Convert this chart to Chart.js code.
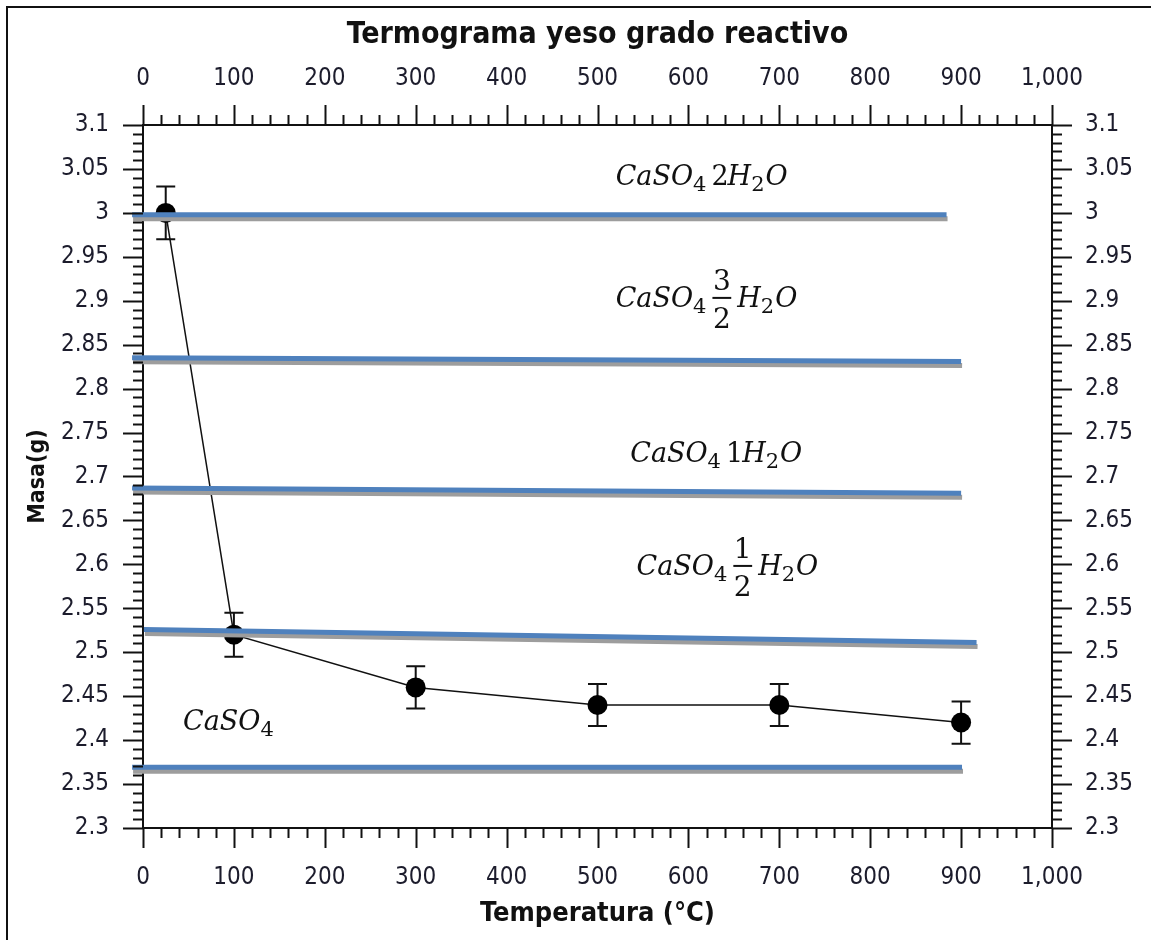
<!DOCTYPE html>
<html>
<head>
<meta charset="utf-8">
<title>Termograma yeso grado reactivo</title>
<script src="https://cdn.jsdelivr.net/npm/chart.js@4.4.1/dist/chart.umd.min.js"></script>
<style>
  html, body { margin: 0; padding: 0; background: #fff; overflow: hidden; }
  #frame {
    position: absolute; left: 6px; top: 6px; width: 1300px; height: 1100px;
    border-top: 2px solid #111; border-left: 2px solid #111;
  }
  #chart { position: absolute; left: 0; top: 0; }
</style>
</head>
<body>
<div id="frame"></div>
<canvas id="chart" width="1151" height="940" style="width:1151px;height:940px"></canvas>
<script>
const tempC   = [25, 100, 300, 500, 700, 900];
const massG   = [3.0, 2.52, 2.46, 2.44, 2.44, 2.42];
const massErr = [0.03, 0.025, 0.024, 0.024, 0.024, 0.024];

// theoretical mass levels of each hydrate (drawn as blue bands)
const levelStartT    = [-12, -12, -12, 1, -12];
const levelEndT      = [884, 900, 900, 917, 901];
const levelStartMass = [2.998, 2.835, 2.687, 2.526, 2.369];
const levelEndMass   = [2.998, 2.831, 2.681, 2.511, 2.369];

// labelled ticks
const tempTicks = [0, 100, 200, 300, 400, 500, 600, 700, 800, 900, 1000];
const massTicks = [2.3, 2.35, 2.4, 2.45, 2.5, 2.55, 2.6, 2.65, 2.7, 2.75,
                   2.8, 2.85, 2.9, 2.95, 3, 3.05, 3.1];

// phase names: i = italic, r = upright, s = subscript, f = fraction
const phaseNames = [
  [["i", "CaSO"], ["s", "4"], ["r", "2"], ["i", "H"], ["s", "2"], ["i", "O"]],
  [["i", "CaSO"], ["s", "4"], ["f", "3", "2"], ["i", "H"], ["s", "2"], ["i", "O"]],
  [["i", "CaSO"], ["s", "4"], ["r", "1"], ["i", "H"], ["s", "2"], ["i", "O"]],
  [["i", "CaSO"], ["s", "4"], ["f", "1", "2"], ["i", "H"], ["s", "2"], ["i", "O"]],
  [["i", "CaSO"], ["s", "4"]]
];
const phaseAtT    = [520, 520, 536, 543, 44];
const phaseAtMass = [3.032, 2.893, 2.7165, 2.588, 2.4115];

// ── Look ────────────────────────────────────────────────
const AXIS_FONT  = "'DejaVu Sans Condensed', 'Liberation Sans', sans-serif";
const MATH_FONT  = "'DejaVu Serif', 'Liberation Serif', serif";
const INK        = "#111";
const LEVEL_BLUE = "#4f81bd";

const isMajor = (list, v) => list.some(t => Math.abs(t - v) < 1e-6);

// ── Plugins ─────────────────────────────────────────────
// outward tick marks, long for labelled values and short otherwise
const tickMarks = {
  id: "tickMarks",
  afterDraw(chart) {
    const ctx = chart.ctx;
    ctx.save();
    ctx.strokeStyle = INK;
    ctx.lineWidth = 2;
    ["x", "x2", "y", "y2"].forEach(id => {
      const s = chart.scales[id];
      const labelled = s.isHorizontal() ? tempTicks : massTicks;
      s.ticks.forEach(t => {
        const len = isMajor(labelled, t.value) ? 20 : 10;
        const p = Math.round(s.getPixelForValue(t.value)) + 0.5;
        ctx.beginPath();
        if (id === "x")  { ctx.moveTo(p, s.top);    ctx.lineTo(p, s.top + len); }
        if (id === "x2") { ctx.moveTo(p, s.bottom); ctx.lineTo(p, s.bottom - len); }
        if (id === "y")  { ctx.moveTo(s.right, p);  ctx.lineTo(s.right - len, p); }
        if (id === "y2") { ctx.moveTo(s.left, p);   ctx.lineTo(s.left + len, p); }
        ctx.stroke();
      });
    });
    ctx.restore();
  }
};

// grey drop shadow under the level bands, error bars under the markers
const seriesDecor = {
  id: "seriesDecor",
  beforeDatasetDraw(chart, args) {
    const ds = chart.data.datasets[args.index];
    const ctx = chart.ctx;
    if (ds.isLevel) {
      ctx.save();
      ctx.shadowColor = "#9d9d9d";
      ctx.shadowOffsetX = 1;
      ctx.shadowOffsetY = 4;
      ctx.shadowBlur = 0;
    }
    if (ds.isSeries) {
      const x = chart.scales.x, y = chart.scales.y;
      ctx.save();
      ctx.strokeStyle = INK;
      ctx.lineWidth = 2;
      tempC.forEach((t, i) => {
        const px = x.getPixelForValue(t);
        const top = y.getPixelForValue(massG[i] + massErr[i]);
        const bot = y.getPixelForValue(massG[i] - massErr[i]);
        ctx.beginPath();
        ctx.moveTo(px, top); ctx.lineTo(px, bot);
        ctx.moveTo(px - 9.5, top); ctx.lineTo(px + 9.5, top);
        ctx.moveTo(px - 9.5, bot); ctx.lineTo(px + 9.5, bot);
        ctx.stroke();
      });
      ctx.restore();
    }
  },
  afterDatasetDraw(chart, args) {
    if (chart.data.datasets[args.index].isLevel) chart.ctx.restore();
  }
};

// chemical formulas written in math style
const phaseLabels = {
  id: "phaseLabels",
  afterDatasetsDraw(chart) {
    const ctx = chart.ctx;
    const F = 27;
    ctx.save();
    ctx.fillStyle = INK;
    ctx.textBaseline = "alphabetic";
    ctx.textAlign = "left";
    phaseNames.forEach((tokens, n) => {
      let x = chart.scales.x.getPixelForValue(phaseAtT[n]);
      const y = chart.scales.y.getPixelForValue(phaseAtMass[n]);
      tokens.forEach(([kind, a, b]) => {
        if (kind === "i") {
          ctx.font = `italic ${F}px ${MATH_FONT}`;
          ctx.fillText(a, x, y);
          x += ctx.measureText(a).width;
        } else if (kind === "r") {
          ctx.font = `${F}px ${MATH_FONT}`;
          x += 4;
          ctx.fillText(a, x, y);
          x += ctx.measureText(a).width - 1;
        } else if (kind === "s") {
          ctx.font = `${Math.round(F * 0.76)}px ${MATH_FONT}`;
          ctx.fillText(a, x, y + 6);
          x += ctx.measureText(a).width + 1;
        } else if (kind === "f") {
          ctx.font = `${F + 1}px ${MATH_FONT}`;
          const w = Math.max(ctx.measureText(a).width, ctx.measureText(b).width) + 1;
          x += 5;
          ctx.fillRect(x, y - 10, w, 2);
          ctx.textAlign = "center";
          ctx.fillText(a, x + w / 2, y - 17);
          ctx.fillText(b, x + w / 2, y + 21);
          ctx.textAlign = "left";
          x += w + 6;
        }
      });
    });
    ctx.restore();
  }
};

// ── Datasets ────────────────────────────────────────────
const levelSets = levelStartT.map((t0, i) => ({
  isLevel: true,
  data: [{ x: t0, y: levelStartMass[i] }, { x: levelEndT[i], y: levelEndMass[i] }],
  borderColor: LEVEL_BLUE,
  borderWidth: 5,
  pointRadius: 0,
  clip: false,
  xAxisID: "x",
  yAxisID: "y"
}));

const massSet = {
  isSeries: true,
  data: tempC.map((t, i) => ({ x: t, y: massG[i] })),
  borderColor: INK,
  borderWidth: 1.5,
  backgroundColor: INK,
  pointRadius: 10,
  pointBorderWidth: 0,
  pointBackgroundColor: "#000",
  tension: 0,
  xAxisID: "x",
  yAxisID: "y"
};

// ── Scales ──────────────────────────────────────────────
const tickFont = { family: AXIS_FONT, size: 24 };

function tempAxis(position, extra) {
  return Object.assign({
    type: "linear",
    position,
    min: 0,
    max: 1000,
    grid: { display: false, drawTicks: false },
    border: { display: true, color: INK, width: 2 },
    ticks: {
      stepSize: 20,
      autoSkip: false,
      maxRotation: 0,
      color: "#1c1c2c",
      font: tickFont,
      callback: v => isMajor(tempTicks, v) ? v.toLocaleString("en-US") : ""
    }
  }, extra);
}

function massAxis(position, extra) {
  return Object.assign({
    type: "linear",
    position,
    min: 2.3,
    max: 3.1,
    grid: { display: false, drawTicks: false },
    border: { display: true, color: INK, width: 2 },
    ticks: {
      stepSize: 0.01,
      autoSkip: false,
      color: "#1c1c2c",
      font: tickFont,
      callback: v => isMajor(massTicks, v) ? String(Math.round(v * 100) / 100) : ""
    }
  }, extra);
}

const scales = {
  x: tempAxis("bottom", {
    title: { display: true, text: "Temperatura (°C)", color: INK,
             font: { family: AXIS_FONT, size: 27, weight: "bold" },
             padding: { top: 0, bottom: 10 } },
    afterFit: s => { s.height = 112; }
  }),
  x2: tempAxis("top", {
    title: { display: true, text: "Termograma yeso grado reactivo", color: INK,
             font: { family: AXIS_FONT, size: 30, weight: "bold" },
             padding: { top: 17, bottom: 0 } },
    afterFit: s => { s.height = 125; }
  }),
  y: massAxis("left", {
    title: { display: true, text: "Masa(g)", color: INK,
             font: { family: AXIS_FONT, size: 23, weight: "bold" },
             padding: { top: 24, bottom: 0 } },
    afterFit: s => { s.width = 143; }
  }),
  y2: massAxis("right", {
    afterFit: s => { s.width = 99; }
  })
};
scales.x.ticks.padding = 35;
scales.x2.ticks.padding = 32;
scales.y.ticks.padding = 34;
scales.y2.ticks.padding = 33;

// ── Chart ───────────────────────────────────────────────
new Chart(document.getElementById("chart").getContext("2d"), {
  type: "line",
  data: { datasets: [...levelSets, massSet] },
  options: {
    responsive: false,
    animation: false,
    devicePixelRatio: 1,
    layout: { padding: 0 },
    scales,
    plugins: {
      legend: { display: false },
      tooltip: { enabled: false }
    }
  },
  plugins: [tickMarks, seriesDecor, phaseLabels]
});
</script>
</body>
</html>
